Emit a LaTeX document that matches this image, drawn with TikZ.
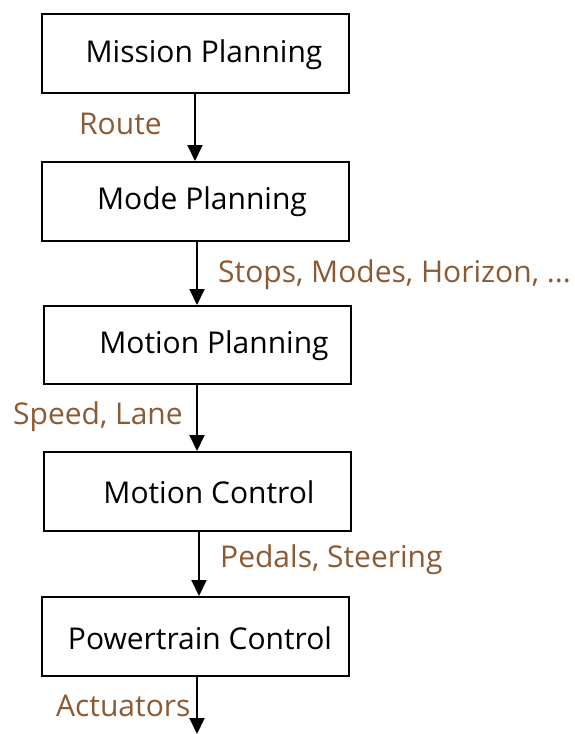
\documentclass[tikz,border=0pt]{standalone}
\usepackage{fontspec}
\setmainfont{Open Sans}
\usetikzlibrary{arrows.meta}
\definecolor{lblbrown}{RGB}{140,90,50}
\tikzset{
  box/.style={draw=black, line width=2pt, anchor=north west, inner sep=0pt},
  boxtext/.style={anchor=center, font=\fontsize{30}{36}\selectfont, text=black, inner sep=0pt},
  lbl/.style={font=\fontsize{30}{36}\selectfont, text=lblbrown, inner sep=0pt},
  arr/.style={line width=2pt, -{Triangle[width=15pt,length=16pt]}}
}
\begin{document}
\begin{tikzpicture}[x=1pt,y=-1pt]
\useasboundingbox (0,0) rectangle (574,734);
\node[box, minimum width=307pt, minimum height=79pt] (b1) at (41,13) {};
\node[box, minimum width=307pt, minimum height=79pt] (b2) at (41,161) {};
\node[box, minimum width=307pt, minimum height=78pt] (b3) at (43,305) {};
\node[box, minimum width=307pt, minimum height=79pt] (b4) at (43,451) {};
\node[box, minimum width=307pt, minimum height=79pt] (b5) at (41,596) {};
\node[boxtext] (t1) at (204,55) {Mission Planning};
\node[boxtext] (t2) at (202,202) {Mode Planning};
\node[boxtext] (t3) at (214,346) {Motion Planning};
\node[boxtext] (t4) at (209,492) {Motion Control};
\node[boxtext] (t5) at (200,638) {Powertrain Control};
\coordinate (end) at (197,734);
\draw[arr] (b1.south -| 195,0) -- (b2.north -| 195,0);
\draw[arr] (b2.south -| 197,0) -- (b3.north -| 197,0);
\draw[arr] (b3.south -| 197,0) -- (b4.north -| 197,0);
\draw[arr] (b4.south -| 199,0) -- (b5.north -| 199,0);
\draw[arr] (b5.south -| 197,0) -- (end);
\node[lbl, anchor=west] (l1) at (79,124) {Route};
\node[lbl, anchor=west] (l2) at (218,275) {Stops, Modes, Horizon, ...};
\node[lbl, anchor=west] (l3) at (13,417) {Speed, Lane};
\node[lbl, anchor=west] (l4) at (220,560) {Pedals, Steering};
\node[lbl, anchor=west] (l5) at (56,706) {Actuators};
\end{tikzpicture}
\end{document}
